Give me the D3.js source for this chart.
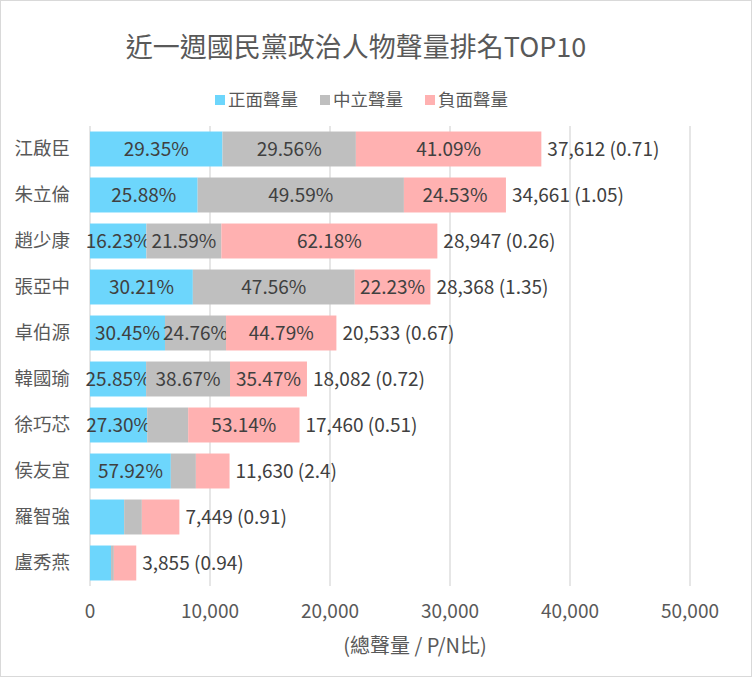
<!DOCTYPE html>
<html>
<head>
<meta charset="utf-8">
<script src="https://cdn.jsdelivr.net/npm/d3@7"></script>
<style>
  body { margin: 0; background: #fff; }
  svg { font-family: "Noto Sans CJK TC", "Noto Sans", sans-serif; }
</style>
</head>
<body>
<svg id="chart"></svg>
<script>
// data
const names = ['江啟臣', '朱立倫', '趙少康', '張亞中', '卓伯源', '韓國瑜', '徐巧芯', '侯友宜', '羅智強', '盧秀燕']
const totals = [37612, 34661, 28947, 28368, 20533, 18082, 17460, 11630, 7449, 3855]
const pnRatio = ['0.71', '1.05', '0.26', '1.35', '0.67', '0.72', '0.51', '2.4', '0.91', '0.94']
const posPct = [29.35, 25.88, 16.23, 30.21, 30.45, 25.85, 27.30, 57.92, 38.2, 45.5]
const neuPct = [29.56, 49.59, 21.59, 47.56, 24.76, 38.67, 19.56, 17.95, 19.8, 6.1]
const negPct = [41.09, 24.53, 62.18, 22.23, 44.79, 35.47, 53.14, 24.13, 42.0, 48.4]
const seriesNames = ['正面聲量', '中立聲量', '負面聲量']
const colors = ['#6dd6fc', '#bfbfbf', '#ffb1b1']
const xTicks = [0, 10000, 20000, 30000, 40000, 50000]

const width = 752, height = 678
const margin = { top: 126, right: 62, bottom: 92, left: 90 }
const innerWidth = width - margin.left - margin.right
const innerHeight = height - margin.top - margin.bottom

const svg = d3.select('#chart').attr('width', width).attr('height', height)

// chart frame
svg.append('rect')
  .attr('x', 0.5).attr('y', 0.5)
  .attr('width', width - 1).attr('height', height - 2)
  .attr('fill', '#fff').attr('stroke', '#d9d9d9')

const data = names.map((n, i) => ({
  name: n, total: totals[i], pn: pnRatio[i],
  pcts: [posPct[i], neuPct[i], negPct[i]]
}))

const xScale = d3.scaleLinear().domain([0, 50000]).range([0, innerWidth])
const yScale = d3.scaleBand().domain(names).range([0, innerHeight]).paddingInner(0.24).paddingOuter(0.12)

const g = svg.append('g').attr('transform', `translate(${margin.left},${margin.top})`)

// gridlines
g.selectAll('line.grid')
  .data(xTicks)
  .join('line')
  .attr('class', 'grid')
  .attr('x1', d => xScale(d)).attr('x2', d => xScale(d))
  .attr('y1', 0).attr('y2', innerHeight)
  .attr('stroke', '#d9d9d9').attr('stroke-width', 1.3)

// x tick labels
g.selectAll('text.tick')
  .data(xTicks)
  .join('text')
  .attr('class', 'tick')
  .attr('x', d => xScale(d))
  .attr('y', innerHeight + 32)
  .attr('text-anchor', 'middle')
  .attr('font-size', 19)
  .attr('fill', '#595959')
  .text(d => d3.format(',')(d))

// y labels
g.selectAll('text.cat')
  .data(data)
  .join('text')
  .attr('class', 'cat')
  .attr('x', -20)
  .attr('y', d => yScale(d.name) + yScale.bandwidth() / 2)
  .attr('dy', '0.35em')
  .attr('text-anchor', 'end')
  .attr('font-size', 18.5)
  .attr('fill', '#595959')
  .text(d => d.name)

// stacked segments
const rows = g.selectAll('g.row')
  .data(data)
  .join('g')
  .attr('class', 'row')
  .attr('transform', d => `translate(0,${yScale(d.name)})`)

rows.each(function (d) {
  const row = d3.select(this)
  let acc = 0
  d.pcts.forEach((p, k) => {
    const v = d.total * p / 100
    const x0 = xScale(acc), x1 = xScale(acc + v)
    acc += v
    row.append('rect')
      .attr('x', x0).attr('y', 0)
      .attr('width', x1 - x0).attr('height', yScale.bandwidth())
      .attr('fill', colors[k])
    if (x1 - x0 > 45) {
      row.append('text')
        .attr('x', (x0 + x1) / 2)
        .attr('y', yScale.bandwidth() / 2)
        .attr('dy', '0.35em')
        .attr('text-anchor', 'middle')
        .attr('font-size', 19)
        .attr('fill', '#404040')
        .text(p.toFixed(2) + '%')
    }
  })
  row.append('text')
    .attr('x', xScale(d.total) + 6)
    .attr('y', yScale.bandwidth() / 2)
    .attr('dy', '0.35em')
    .attr('font-size', 19)
    .attr('fill', '#404040')
    .text(d3.format(',')(d.total) + ' (' + d.pn + ')')
})

// title
svg.append('text')
  .attr('x', 356).attr('y', 57)
  .attr('text-anchor', 'middle')
  .attr('font-size', 27)
  .attr('fill', '#595959')
  .text('近一週國民黨政治人物聲量排名TOP10')

// legend
const legend = svg.append('g').attr('transform', 'translate(215,100)')
let lx = 0
seriesNames.forEach((s, k) => {
  legend.append('rect').attr('x', lx).attr('y', -5).attr('width', 10).attr('height', 10).attr('fill', colors[k])
  const t = legend.append('text')
    .attr('x', lx + 13).attr('y', 0).attr('dy', '0.35em')
    .attr('font-size', 17.5).attr('fill', '#595959').text(s)
  lx += 13 + t.node().getComputedTextLength() + 22
})

// axis title
svg.append('text')
  .attr('x', 415).attr('y', 653)
  .attr('text-anchor', 'middle')
  .attr('font-size', 20)
  .attr('fill', '#595959')
  .text('(總聲量 / P/N比)')
</script>
</body>
</html>
